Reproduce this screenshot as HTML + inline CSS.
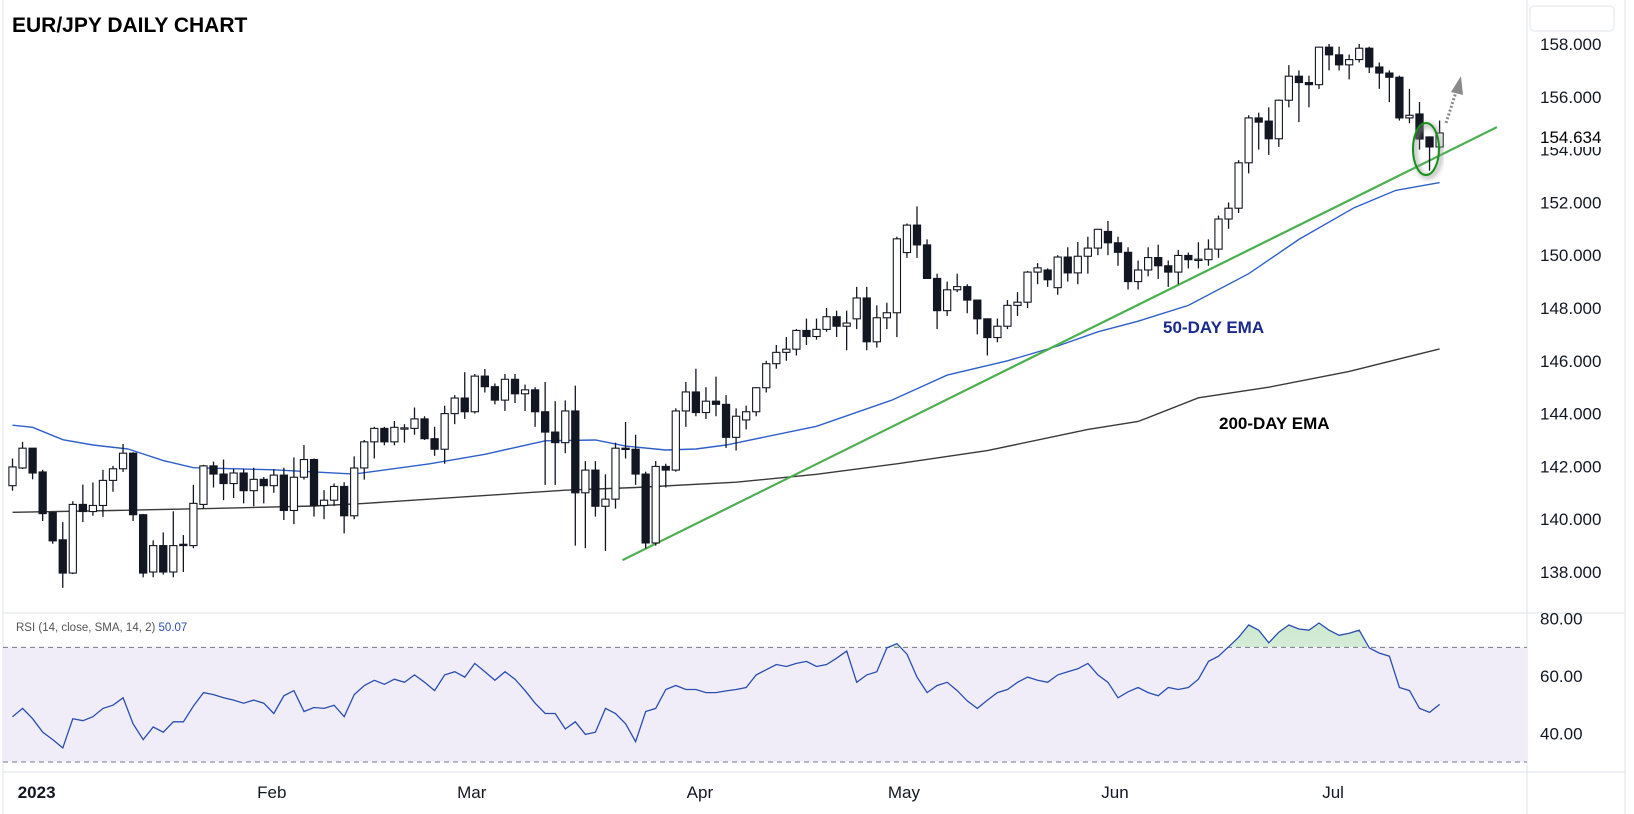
<!DOCTYPE html>
<html><head><meta charset="utf-8"><title>EUR/JPY Daily Chart</title>
<style>
html,body{margin:0;padding:0;background:#fff;}
svg{display:block;font-family:"Liberation Sans",sans-serif;}
</style></head>
<body>
<svg id="chart" xmlns="http://www.w3.org/2000/svg" width="1634" height="814" viewBox="0 0 1634 814">
<defs>
<linearGradient id="obGrad" x1="0" y1="0" x2="0" y2="1">
<stop offset="0" stop-color="#4caf50" stop-opacity="0.28"/>
<stop offset="1" stop-color="#4caf50" stop-opacity="0.02"/>
</linearGradient>
<clipPath id="obClip"><rect x="0" y="613" width="1527" height="34"/></clipPath>
<filter id="blur3"><feGaussianBlur stdDeviation="2.5"/></filter>
</defs>
<rect x="0" y="0" width="1634" height="814" fill="#fff"/>
<line x1="3" y1="0" x2="3" y2="814" stroke="#e0e3eb"/>
<line x1="1527" y1="0" x2="1527" y2="814" stroke="#e0e3eb"/>
<line x1="1625" y1="0" x2="1625" y2="814" stroke="#e0e3eb"/>
<line x1="3" y1="613" x2="1625" y2="613" stroke="#e0e3eb"/>
<line x1="3" y1="772" x2="1625" y2="772" stroke="#e0e3eb"/>
<rect x="1530" y="6" width="84" height="25" rx="4" fill="#fff" stroke="#e0e3eb"/>
<text x="12" y="32" font-size="21" font-weight="bold" fill="#000">EUR/JPY DAILY CHART</text>
<g id="rsiBg"></g>
<g id="yaxis"></g>
<g id="raxis"></g>
<g id="xaxis"></g>
<g id="lines"></g>
<g id="candles"></g>
<g id="rsi"></g>
<text x="1163" y="333" font-size="17" font-weight="bold" fill="#1a2a8c">50-DAY EMA</text>
<text x="1219" y="429" font-size="17" font-weight="bold" fill="#000">200-DAY EMA</text>
<text x="16" y="631" font-size="11.5" fill="#555">RSI (14, close, SMA, 14, 2) <tspan fill="#2a4db0">50.07</tspan></text>
<g>
<ellipse cx="1428" cy="151" rx="13" ry="26" fill="none" stroke="#999" stroke-width="4" filter="url(#blur3)" opacity="0.7"/>
<ellipse cx="1426" cy="149" rx="13" ry="26" fill="none" stroke="#15901a" stroke-width="2"/>
</g>
<g>
<line x1="1446" y1="123" x2="1456" y2="92" stroke="#8a8a8a" stroke-width="3" stroke-dasharray="2,2"/>
<polygon points="1461,76 1451,92 1463,95" fill="#8a8a8a"/>
</g>
<g>
<rect x="1528" y="126" width="96" height="21" fill="#fff"/>
<text x="1540" y="143" font-size="17" fill="#000">154.634</text>
</g>
</svg>
<script>
const open_=[141.27,141.94,142.69,141.79,140.25,139.22,137.96,140.56,140.29,140.52,141.47,141.91,142.50,140.17,138.00,139.00,138.00,139.05,139.00,140.56,142.02,141.71,141.35,141.75,141.08,141.51,141.27,141.67,140.33,141.59,142.26,140.52,140.72,141.24,140.13,141.94,142.93,143.44,142.93,143.44,143.44,143.80,143.05,142.65,144.00,144.59,144.07,145.42,145.02,144.51,145.30,144.75,144.90,144.07,143.30,142.90,144.10,141.00,141.86,140.49,140.76,142.69,142.65,141.71,139.10,142.00,141.86,144.10,144.82,144.04,144.47,144.35,143.10,143.76,144.07,144.98,145.89,146.32,146.44,147.15,146.92,147.19,147.67,147.31,147.59,148.38,146.72,147.63,147.82,150.10,151.14,150.39,149.12,147.90,148.69,148.81,148.30,147.59,146.88,147.31,148.10,148.22,149.36,149.44,148.77,149.93,149.33,149.96,150.27,150.90,150.47,150.11,149.00,149.44,149.91,149.60,149.36,149.99,149.83,149.83,150.23,151.37,151.78,153.50,155.20,155.08,154.41,155.87,156.78,156.54,156.46,157.88,157.59,157.21,157.41,157.84,157.13,156.90,156.74,155.20,155.35,154.48,154.10];
const high_=[142.30,142.93,142.69,141.87,140.29,139.89,140.68,141.31,141.39,141.87,142.02,142.85,142.54,140.20,139.20,139.50,140.30,139.40,141.30,142.06,142.18,142.26,141.90,141.90,141.95,141.60,141.90,141.95,142.34,142.81,142.30,141.10,141.35,141.40,142.38,143.00,143.50,143.50,143.72,143.60,144.23,143.90,143.50,144.30,144.70,145.57,145.50,145.69,145.14,145.50,145.50,145.10,145.00,145.20,144.47,144.50,145.06,142.20,142.20,141.70,142.90,143.68,143.20,141.80,142.20,142.10,144.20,145.20,145.70,145.00,145.40,144.70,144.20,144.30,145.00,146.00,146.60,146.90,147.20,147.60,147.60,148.00,147.90,147.90,148.80,148.80,148.10,148.20,150.70,151.20,151.85,150.60,149.30,149.00,149.30,148.90,148.30,147.60,147.60,148.30,148.60,149.40,149.70,149.50,150.00,150.30,150.50,150.70,151.00,151.30,150.70,150.30,149.80,150.30,150.40,149.80,150.20,150.10,150.49,150.60,151.50,152.00,153.60,155.30,155.40,155.60,155.90,157.20,157.00,156.80,157.90,158.00,157.90,157.60,158.00,157.90,157.30,157.00,156.80,156.30,155.80,154.50,155.10];
const low_=[141.08,141.90,141.51,139.93,139.07,137.40,137.92,139.89,140.13,140.09,141.04,141.79,139.93,137.80,137.80,137.90,137.80,138.00,138.90,140.40,141.20,140.72,140.80,140.60,140.49,140.60,141.00,139.97,139.81,141.50,140.10,140.00,140.50,139.46,140.00,141.50,142.30,142.80,142.80,142.90,143.20,143.00,142.40,142.10,143.60,143.80,144.00,144.80,144.35,144.10,144.40,144.10,143.50,141.30,141.30,142.50,139.00,138.90,140.10,138.80,140.40,142.30,141.30,138.90,139.00,141.20,141.80,143.50,143.90,143.80,143.90,142.70,142.60,143.40,143.90,144.80,145.70,146.00,146.20,146.60,146.80,147.10,146.90,146.40,147.20,146.40,146.50,147.20,146.90,149.90,149.90,149.10,147.20,147.70,148.60,147.80,147.00,146.20,146.70,147.20,147.70,148.00,148.90,148.80,148.50,149.00,148.90,149.30,150.00,150.00,149.60,148.70,148.70,149.20,149.10,148.80,148.90,149.50,149.50,149.60,149.90,151.00,151.60,153.10,154.00,153.80,154.10,155.60,155.04,155.60,156.30,157.00,157.00,156.66,157.30,156.90,156.30,155.80,155.10,155.00,154.00,153.20,154.00];
const close_=[141.98,142.69,141.75,140.21,139.18,137.96,140.56,140.29,140.52,141.47,141.91,142.50,140.17,137.96,139.00,138.00,139.00,139.00,140.60,142.02,141.71,141.35,141.75,141.08,141.51,141.27,141.67,140.33,141.59,142.26,140.52,140.72,141.24,140.13,141.94,142.93,143.44,142.93,143.48,143.46,143.80,143.05,142.65,144.00,144.59,144.07,145.42,145.02,144.51,145.30,144.75,144.90,144.07,143.30,142.90,144.10,141.00,141.86,140.49,140.76,142.69,142.65,141.71,139.10,142.00,141.86,144.10,144.82,144.04,144.47,144.35,143.10,143.90,144.07,144.98,145.89,146.32,146.44,147.15,146.92,147.19,147.67,147.31,147.43,148.38,146.72,147.63,147.82,150.62,151.14,150.39,149.12,147.90,148.69,148.81,148.30,147.59,146.88,147.31,148.10,148.22,149.36,149.52,149.07,149.93,149.33,149.96,150.27,150.98,150.47,150.11,149.00,149.44,149.91,149.60,149.36,149.99,149.83,149.85,150.23,151.37,151.78,153.50,155.20,155.04,154.41,155.87,156.78,156.54,156.46,157.88,157.59,157.21,157.41,157.84,157.13,156.90,156.74,155.20,155.30,154.40,154.10,154.63];
const rsiVals=[45.8,48.7,45.1,40.4,37.8,34.9,45.1,44.4,45.8,48.7,49.8,52.4,43.3,37.8,42.2,40.4,44.0,44.0,49.5,54.2,53.5,52.4,51.6,50.5,51.6,50.5,46.9,53.1,54.9,47.6,49.0,48.7,49.8,45.8,53.5,56.7,58.5,57.1,58.9,57.8,60.4,57.8,54.9,60.4,61.5,59.6,64.4,61.5,58.5,61.5,58.9,54.9,50.5,46.9,46.9,41.5,44.0,39.6,40.4,48.7,46.9,43.3,37.1,47.6,48.7,55.3,56.7,55.3,55.3,54.2,54.2,54.8,55.3,56.0,60.4,62.2,64.0,63.3,64.4,65.1,63.3,64.0,66.2,68.7,57.8,60.4,61.5,69.8,71.3,67.6,59.6,54.2,56.7,57.8,54.9,51.3,48.7,51.6,54.2,55.3,57.8,59.6,58.5,57.8,60.4,61.5,62.5,64.4,60.4,57.8,52.4,54.5,56.0,54.2,53.1,56.0,55.3,56.0,58.9,65.1,66.9,70.2,73.5,77.8,76.0,71.6,75.3,77.8,76.4,76.0,78.5,76.0,74.2,74.9,76.0,69.8,68.0,66.9,56.0,54.9,48.7,47.3,50.07];
const ema50Idx=[0,2,5,8,11.5,15,18,26,34,41.5,47,53,58,61,65,68,71,80,87.5,93,99,104,108,112,117,123,128,133.5,137.6,142];
const ema50Val=[143.56,143.48,143.01,142.81,142.66,142.22,141.95,141.87,141.71,142.10,142.46,142.97,143.00,142.77,142.62,142.66,142.81,143.52,144.51,145.46,146.00,146.56,147.10,147.50,148.10,149.30,150.60,151.80,152.45,152.75];
const ema200Idx=[0,10,20,30,35,45,55,62,72,80,88,97,107,112,118,125,133,142];
const ema200Val=[140.26,140.33,140.41,140.50,140.60,140.85,141.10,141.20,141.40,141.70,142.10,142.60,143.40,143.70,144.60,145.00,145.60,146.45];
const trendIdx=[60.7,147.7];
const trendVal=[138.45,154.85];
const priceTicks=[158,156,154,152,150,148,146,144,142,140,138];
const priceTickLabels=["158.000","156.000","154.000","152.000","150.000","148.000","146.000","144.000","142.000","140.000","138.000"];
const rsiTicks=[80,60,40];
const rsiTickLabels=["80.00","60.00","40.00"];
const monthLabels=["2023","Feb","Mar","Apr","May","Jun","Jul"];
const monthIdx=[2.4,25.8,45.7,68.4,88.7,109.7,131.4];

const NS="http://www.w3.org/2000/svg";
function xOf(i){return 12.5+i*10.05;}
function yP(p){return 572-(p-138)*26.4;}
function yR(r){return 733.3-(r-40)*2.865;}
function mk(tag,attrs,parent){const e=document.createElementNS(NS,tag);for(const k in attrs)e.setAttribute(k,attrs[k]);parent.appendChild(e);return e;}

const bg=document.getElementById('rsiBg');
const band=mk('rect',{x:3,y:yR(70),width:1524,height:yR(30)-yR(70),fill:'#f0edf9'},bg);


[70,30].forEach(v=>{const l=mk('line',{x1:3,x2:1527,y1:yR(v),y2:yR(v),stroke:'#787b86','stroke-dasharray':'5,4','stroke-width':1},bg);

});

const ya=document.getElementById('yaxis');
priceTicks.forEach((p,k)=>{const t=mk('text',{x:1540,y:yP(p)+6,'font-size':17,fill:'#131722'},ya);t.textContent=priceTickLabels[k];

});
const ra=document.getElementById('raxis');
rsiTicks.forEach((r,k)=>{const t=mk('text',{x:1540,y:yR(r)+6,'font-size':17,fill:'#131722'},ra);t.textContent=rsiTickLabels[k];

});
const xa=document.getElementById('xaxis');
monthLabels.forEach((m,k)=>{const t=mk('text',{x:xOf(monthIdx[k]),y:798,'font-size':17,fill:'#131722','text-anchor':'middle','font-weight':k===0?'bold':'normal'},xa);t.textContent=m;

});

const lg=document.getElementById('lines');
function poly(idx,vals){return idx.map((i,k)=>xOf(i).toFixed(1)+','+yP(vals[k]).toFixed(1)).join(' ');}
const e200=mk('polyline',{points:poly(ema200Idx,ema200Val),fill:'none',stroke:'#3a3a3a','stroke-width':1.4},lg);


const e50=mk('polyline',{points:poly(ema50Idx,ema50Val),fill:'none',stroke:'#2f5fc9','stroke-width':1.4},lg);


const tl=mk('line',{x1:xOf(trendIdx[0]),y1:yP(trendVal[0]),x2:xOf(trendIdx[1]),y2:yP(trendVal[1]),stroke:'#4caf50','stroke-width':2.2},lg);



const cg=document.getElementById('candles');
for(let i=0;i<close_.length;i++){
  const x=xOf(i),up=close_[i]>=open_[i];
  const g=mk('g',{},cg);
  
  
  mk('line',{x1:x,x2:x,y1:yP(high_[i]),y2:yP(low_[i]),stroke:'#131722','stroke-width':1.3},g);
  const top=yP(Math.max(open_[i],close_[i])),bot=yP(Math.min(open_[i],close_[i]));
  mk('rect',{x:x-3.6,y:top,width:7.2,height:Math.max(1.3,bot-top),fill:up?'#fff':'#131722',stroke:'#131722','stroke-width':1.1},g);
}

const rg=document.getElementById('rsi');
const rpts=rsiVals.map((r,i)=>xOf(i).toFixed(1)+','+yR(r).toFixed(1));
const area=mk('polygon',{points:xOf(0)+','+yR(70)+' '+rpts.join(' ')+' '+xOf(rsiVals.length-1)+','+yR(70),fill:'url(#obGrad)','clip-path':'url(#obClip)'},rg);


const rl=mk('polyline',{points:rpts.join(' '),fill:'none',stroke:'#2a4db0','stroke-width':1.3},rg);


</script>
</body></html>
